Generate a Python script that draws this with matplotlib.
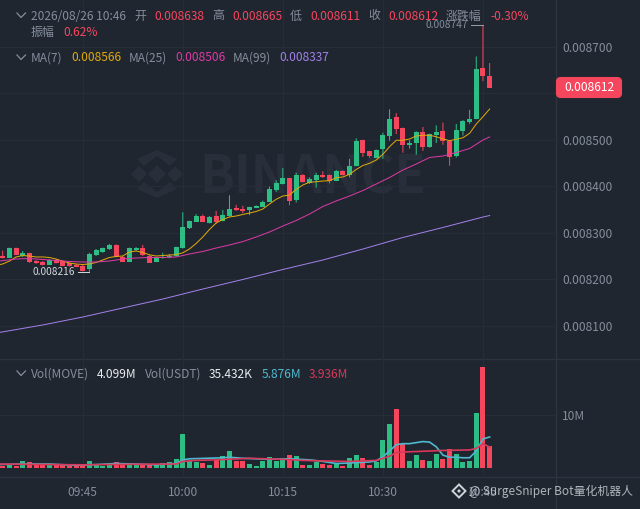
import matplotlib
matplotlib.use('Agg')
import numpy as np
import matplotlib.pyplot as plt
from matplotlib.lines import Line2D
from matplotlib.patches import FancyBboxPatch, Polygon

plt.rcParams['font.family'] = ['Noto Sans CJK SC', 'DejaVu Sans']

# prices are in units of 0.000001, one candle per minute, minutes counted from 09:45
minutes = list(range(-12, 62))
opens = [8250, 8246.3, 8267, 8250.7, 8256, 8239, 8237, 8231, 8242, 8239, 8234, 8231, 8228.5, 8222, 8252, 8259, 8264,
         8274, 8248, 8238, 8262, 8268, 8251, 8238, 8246, 8247, 8250, 8267, 8310, 8324, 8336, 8322, 8337, 8326, 8336,
         8353, 8351, 8349, 8354, 8356, 8366, 8392, 8405, 8417, 8370, 8425, 8408, 8413, 8424, 8424, 8412, 8433, 8425,
         8443.5, 8499, 8475, 8461.4, 8479.4, 8509, 8548, 8525, 8488, 8492, 8516, 8484, 8511, 8518, 8498, 8465, 8518,
         8539, 8545, 8655, 8638]
highs = [8261.4, 8268, 8268, 8260.8, 8257, 8241, 8239, 8243.5, 8243.5, 8240, 8235, 8233, 8230.5, 8257, 8265, 8268, 8276,
         8275, 8250, 8268, 8269, 8274, 8252, 8247, 8257, 8254.3, 8270, 8344, 8326, 8340, 8339, 8336, 8347, 8349, 8380.5,
         8360, 8358, 8356, 8359, 8369, 8399, 8413, 8439, 8418, 8429, 8426, 8419, 8429, 8432, 8425, 8435, 8434, 8458.6,
         8503, 8500, 8476, 8479, 8515, 8565.4, 8557, 8526, 8499, 8518, 8527.4, 8513, 8531, 8537, 8499, 8534, 8542,
         8564, 8679, 8747, 8665]
lows = [8244.6, 8245.7, 8252, 8247.9, 8235, 8233, 8230, 8230.6, 8234, 8228, 8227, 8226, 8217, 8216, 8250, 8257, 8263,
        8247, 8237, 8237, 8261, 8250, 8235, 8237, 8244, 8245, 8249, 8266, 8308, 8323, 8323, 8320, 8319, 8324.5, 8335,
        8347, 8342, 8338, 8353, 8355, 8366, 8388, 8404, 8359, 8365, 8408, 8405, 8397, 8418, 8406, 8411, 8423, 8419,
        8443, 8463, 8461, 8461, 8459, 8498, 8512, 8472, 8481, 8468, 8476, 8483, 8493, 8489, 8444, 8462, 8509,
        8534, 8544, 8626, 8611]
closes = [8245.7, 8267.2, 8252.8, 8255.8, 8237.1, 8235, 8231.3, 8242, 8235, 8229, 8228.5, 8227, 8218.4, 8255, 8263, 8267,
          8274, 8248, 8238, 8267, 8268, 8252, 8236, 8246, 8248, 8251, 8269.4, 8312, 8325, 8336, 8324, 8334, 8324, 8338,
          8351, 8348, 8346, 8355, 8358, 8367, 8393.4, 8408, 8418, 8369, 8425, 8408.4, 8416, 8423.5, 8419, 8412, 8433,
          8424, 8443.5, 8497, 8471, 8465, 8477, 8511, 8544, 8522, 8489, 8492, 8517, 8484, 8512, 8517, 8498, 8462, 8520,
          8541, 8545, 8652, 8638, 8612]
ma7 = [8232.8, 8239, 8247.9, 8251, 8250, 8247.9, 8247.9, 8246.8, 8243.5, 8239, 8235, 8232.8, 8231.7, 8232.8, 8236, 8241.4,
       8246.8, 8249, 8250, 8258.6, 8260.8, 8257.5, 8252.6, 8250, 8251, 8252, 8253, 8256.9, 8265, 8276.9, 8290.9, 8307,
       8321, 8328.5, 8333.9, 8336, 8339.2, 8342.4, 8345.7, 8351, 8361.8, 8371.9, 8379, 8381, 8393.4, 8402.7, 8408.5,
       8409.7, 8411.2, 8411.9, 8418.3, 8419.9, 8425.6, 8436, 8444.6, 8449.3, 8456.4, 8468.6, 8485, 8498.8, 8498.8,
       8501.6, 8508, 8509.5, 8509.5, 8506.5, 8501.6, 8498, 8500.9, 8504.3, 8513.8, 8533.8, 8549.5, 8566]
ma25_minutes = [-13, -10, -8, -6, -4, -2, 0, 2, 4, 6, 8, 10, 12, 14, 15, 16, 18, 20, 22, 24, 26, 28, 30, 32, 34, 36, 38,
                40, 42, 44, 46, 48, 50, 52, 54, 56, 58, 60, 61]
ma25 = [8238.2, 8243.6, 8244.6, 8242.5, 8240.3, 8238.2, 8237.1, 8237.1, 8239.2, 8243.5, 8245.7, 8246.8, 8246.8, 8247.9,
        8251, 8254.3, 8259.7, 8267.2, 8273.7, 8281, 8290.9, 8301.6, 8314.5, 8326.3, 8340.3, 8356.4, 8368.3, 8379,
        8390.8, 8404.8, 8418.8, 8434.9, 8447.8, 8461.8, 8465, 8472.5, 8481.1, 8499.4, 8506]
ma99_minutes = [-13, -6, 0, 6, 12, 18, 24, 30, 36, 42, 48, 54, 60, 61]
ma99 = [8084.4, 8101.7, 8118.8, 8138.2, 8157.5, 8179, 8199.5, 8221, 8241.4, 8265, 8289.8, 8311.3, 8333.8, 8337]

# volume in millions
volumes = [0.4, 0.5, 0.4, 1.3, 1.1, 0.6, 0.6, 0.5, 0.6, 0.5, 0.3, 0.3, 0.5, 1.3, 0.5, 0.4, 0.5, 1.0, 0.6, 0.8, 0.6, 0.6,
           0.5, 0.6, 0.9, 1.0, 1.6, 6.4, 1.3, 1.0, 0.9, 0.5, 1.4, 2.2, 3.2, 1.3, 1.3, 0.7, 0.3, 1.2, 2.0, 1.2, 1.8, 2.4,
           2.3, 0.6, 0.6, 1.0, 0.8, 0.5, 0.8, 0.4, 1.9, 2.4, 1.8, 0.5, 1.0, 5.3, 8.4, 11.3, 4.5, 1.3, 2.4, 1.4, 1.2, 2.6,
           1.7, 3.5, 2.6, 1.0, 1.3, 10.4, 19.3, 4.099]
vol_fast_minutes = [-13, -9, -5, -1, 2, 5, 8, 11, 14, 15, 16, 21, 22, 24, 28, 31, 34, 36, 38, 40, 43, 44, 45, 46, 47, 48,
                    49, 51, 52, 53, 54, 55, 56, 57, 58, 59, 60, 61]
vol_fast = [0.6, 0.7, 0.7, 0.45, 0.6, 0.8, 0.7, 0.55, 0.8, 1.5, 1.7, 1.9, 2.0, 1.8, 1.6, 1.7, 1.5, 1.2, 0.8, 0.9, 1.1, 1.3,
            2.1, 3.2, 4.4, 4.6, 4.6, 5.0, 4.9, 4.0, 2.4, 2.0, 2.0, 1.9, 1.9, 3.2, 5.5, 5.876]
vol_slow_minutes = [-13, -5, 0, 7, 14, 15, 17, 20, 25, 30, 33, 36, 40, 44, 45, 46, 47, 48, 50, 54, 58, 59, 60, 61]
vol_slow = [0.7, 0.6, 0.55, 0.65, 0.7, 1.2, 1.4, 1.5, 1.8, 1.6, 1.4, 1.3, 1.2, 1.4, 1.8, 2.2, 2.9, 3.0, 3.1, 3.3, 3.4, 3.7,
            4.6, 3.936]

time_ticks = [0, 15, 30, 45, 60]
time_labels = ['09:45', '10:00', '10:15', '10:30', '10:45']
price_ticks = [8100, 8200, 8300, 8400, 8500, 8600, 8700]
price_labels = ['0.008100', '0.008200', '0.008300', '0.008400', '0.008500', '', '0.008700']

bg = '#1f2630'
grid = '#262d38'
sep = '#2d3440'
gray = '#848e9c'
red = '#f6465d'
green = '#2ebd85'
yellow = '#e0a90c'
pink = '#dc3aa5'
purple = '#a180e8'
cyan = '#4fb9cf'
vol_red = '#d8385a'

W, H = 640, 509


def fx(x):
    return x / W


def fy(y):
    return 1 - y / H


fig = plt.figure(figsize=(W / 100, H / 100), dpi=100, facecolor=bg)
ax1 = fig.add_axes([0, fy(358), fx(555), 358 / H], facecolor='none', zorder=2)
ax2 = fig.add_axes([0, fy(476), fx(555), 118 / H], facecolor='none', zorder=2)

o = np.array(opens)
c = np.array(closes)
colors = [green if b >= a else red for a, b in zip(opens, closes)]
width = 0.75

# watermark goes under the candles
wm = '#282f3a'
shapes = [
    [(157, 165), (166, 174), (157, 183), (148, 174)],
    [(131, 174), (139, 166), (147, 174), (139, 182)],
    [(167, 174), (175, 166), (183, 174), (175, 182)],
    [(157, 150), (177, 159), (170, 166), (157, 156), (144, 166), (137, 159)],
    [(157, 198), (177, 189), (170, 182), (157, 192), (144, 182), (137, 189)],
]
for s in shapes:
    fig.add_artist(Polygon([(fx(a), fy(b)) for a, b in s], closed=True, facecolor=wm, edgecolor='none', zorder=1,
                           transform=fig.transFigure))
fig.text(fx(199), fy(178), 'BINANCE', color=wm, fontsize=37, fontweight='bold', va='center', ha='left', zorder=1)

wicks = ax1.vlines(minutes, lows, highs, colors=colors, linewidth=0.72, zorder=3)
wicks.set_snap(False)
ax1.bar(minutes, np.abs(c - o), bottom=np.minimum(o, c), width=width, color=colors, zorder=3)
ax1.plot([-13] + minutes, [8230] + ma7, color=yellow, linewidth=0.72, zorder=4)
ax1.plot(ma25_minutes, ma25, color=pink, linewidth=0.72, zorder=4)
ax1.plot(ma99_minutes, ma99, color=purple, linewidth=0.72, zorder=4)

ax1.set_xlim(-12.4, 70.8)
ax1.set_ylim(8030.7, 8800.4)
ax1.yaxis.tick_right()
ax1.set_yticks(price_ticks)
ax1.set_yticklabels(price_labels)
ax1.set_xticks(time_ticks)
ax1.tick_params(axis='y', length=0, pad=5.3, labelsize=8.6, labelcolor=gray)
ax1.tick_params(axis='x', length=0, labelbottom=False)
ax1.grid(True, color=grid, linewidth=0.8)
ax1.set_axisbelow(True)

# high and low marks
ax1.plot([58.2, 60], [8747, 8747], color='#9aa0aa', linewidth=0.7, zorder=5)
ax1.text(57.7, 8747, '0.008747', color=gray, fontsize=7.3, ha='right', va='center', zorder=5)
ax1.plot([-0.7, 1], [8216, 8216], color='#d5d8dc', linewidth=0.7, zorder=5)
ax1.text(-1.15, 8216, '0.008216', color='#d5d8dc', fontsize=7.3, ha='right', va='center', zorder=5)

ax2.bar(minutes, volumes, width=width, color=colors, zorder=3)
ax2.plot(vol_fast_minutes, vol_fast, color=cyan, linewidth=1.2, zorder=4)
ax2.plot(vol_slow_minutes, vol_slow, color=vol_red, linewidth=1.2, zorder=5)
ax2.set_xlim(-12.4, 70.8)
ax2.set_ylim(-1.59, 21.0)
ax2.yaxis.tick_right()
ax2.set_yticks([10])
ax2.set_yticklabels(['10M'])
ax2.set_xticks(time_ticks)
ax2.set_xticklabels(time_labels)
ax2.tick_params(axis='y', length=0, pad=5.3, labelsize=8.6, labelcolor=gray)
ax2.tick_params(axis='x', length=0, pad=7.5, labelsize=8.6, labelcolor=gray)
ax2.grid(True, color=grid, linewidth=0.8)
ax2.set_axisbelow(True)

for ax in (ax1, ax2):
    for sp in ax.spines.values():
        sp.set_visible(False)

fig.add_artist(Line2D([0, 1], [fy(358.5)] * 2, color=sep, linewidth=1))
fig.add_artist(Line2D([0, 1], [fy(476.5)] * 2, color=sep, linewidth=1))
fig.add_artist(Line2D([fx(555.5)] * 2, [0, 1], color=sep, linewidth=1))

# legend rows
rows = [
    (16, [(31, '2026/08/26 10:46', gray), (134, '开', gray), (154, '0.008638', red), (212, '高', gray),
          (232, '0.008665', red), (290, '低', gray), (310, '0.008611', red), (368, '收', gray),
          (388, '0.008612', red), (446, '涨跌幅', gray), (490, '-0.30%', red)]),
    (32, [(31, '振幅', gray), (63, '0.62%', red)]),
    (58, [(31, 'MA(7)', gray), (71, '0.008566', yellow), (129, 'MA(25)', gray), (175, '0.008506', pink),
          (233, 'MA(99)', gray), (279.5, '0.008337', purple)]),
    (374, [(31, 'Vol(MOVE)', gray), (97, '4.099M', '#eaecef'), (145, 'Vol(USDT)', gray), (209, '35.432K', '#eaecef'),
           (262, '5.876M', cyan), (309, '3.936M', vol_red)]),
]
for y, items in rows:
    for x, s, col in items:
        fig.text(fx(x), fy(y), s, color=col, fontsize=8.6, ha='left', va='center', zorder=6)

for y in (15, 57, 373):
    fig.add_artist(Line2D([fx(17), fx(21), fx(25.5)], [fy(y - 2), fy(y + 2.5), fy(y - 2)], color=gray, linewidth=0.9,
                          zorder=6))

# last price tag
tag = FancyBboxPatch((fx(557), fy(97)), fx(64), 19 / H, boxstyle='round,pad=0,rounding_size=0.006',
                     transform=fig.transFigure, facecolor=red, edgecolor=red, linewidth=1.5, mutation_aspect=1.2,
                     zorder=6)
fig.add_artist(tag)
fig.text(fx(589), fy(87.5), '0.008612', color='white', fontsize=8.6, ha='center', va='center', zorder=7)

# site footer over the axis
fig.add_artist(Polygon([(fx(a), fy(b)) for a, b in [(459, 484.5), (465.5, 491), (459, 497.5), (452.5, 491)]],
                       closed=True, facecolor='none', edgecolor='#d0d3d8', linewidth=1.4, transform=fig.transFigure,
                       zorder=8))
fig.add_artist(Polygon([(fx(a), fy(b)) for a, b in [(459, 489), (461, 491), (459, 493), (457, 491)]], closed=True,
                       facecolor='#d0d3d8', edgecolor='none', transform=fig.transFigure, zorder=8))
fig.text(fx(469), fy(491), '@ SurgeSniper Bot量化机器人', color='#c9ccd2', alpha=0.85, fontsize=8.55, ha='left',
         va='center', zorder=8)

fig.savefig('out.png', dpi=100, facecolor=bg)
